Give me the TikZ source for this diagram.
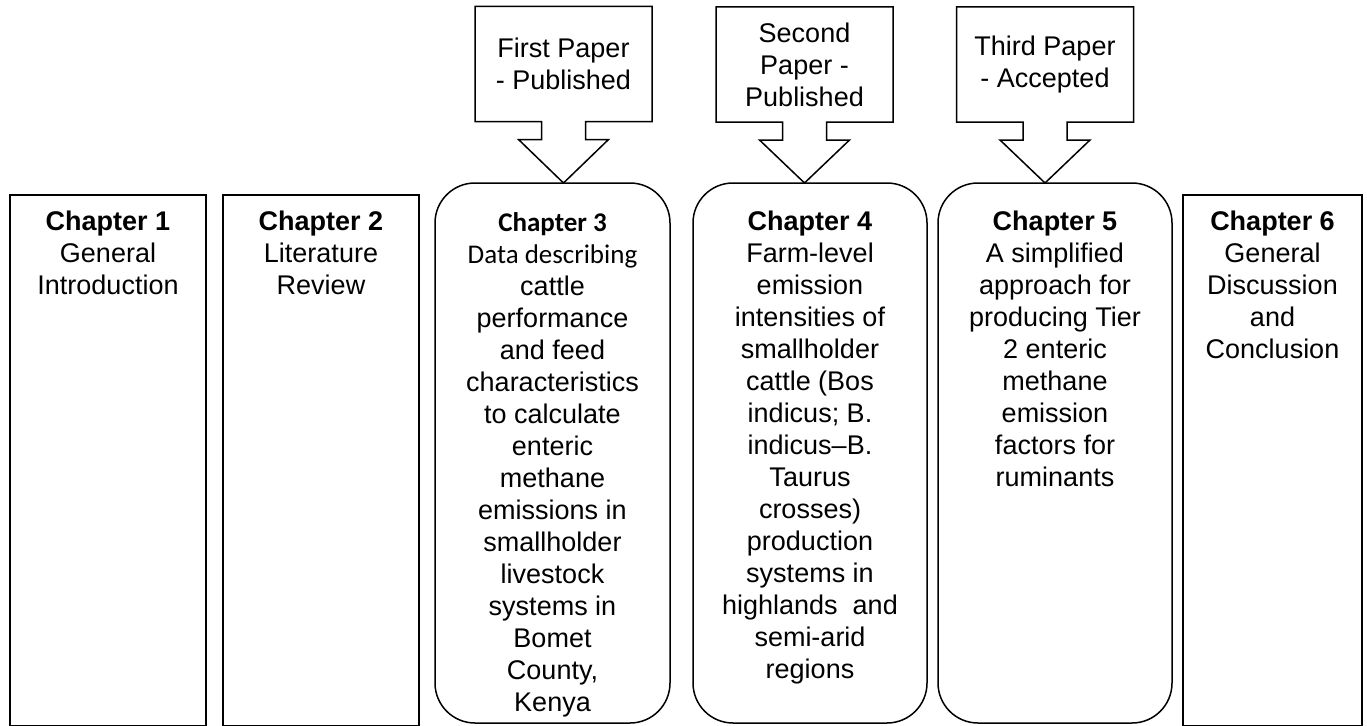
\documentclass[tikz,border=0pt]{standalone}
\usepackage{fontspec}
\setmainfont{Liberation Sans}
\newfontfamily\calibri{Carlito}
\begin{document}
\begin{tikzpicture}[x=1pt,y=-1pt,
  chbox/.style={draw, line width=1.5pt, rectangle, outer sep=0pt, anchor=north west},
  rbox/.style={chbox, rounded corners=40pt},
  txt/.style={align=center, inner sep=0pt, anchor=north, font=\fontsize{27}{32}\selectfont},
  ptext/.style={align=center, inner sep=0pt, outer sep=0pt, minimum width=177pt, minimum height=115pt, font=\fontsize{27}{32}\selectfont},
  outline/.style={draw, line width=1.5pt, line join=miter}
]
\useasboundingbox (0,0) rectangle (1367,725);

% chapter boxes
\node[chbox, minimum width=196pt, minimum height=530.5pt] (b1) at (10,195) {};
\node[chbox, minimum width=196pt, minimum height=530.5pt] (b2) at (223,195) {};
\node[rbox, minimum width=235pt, minimum height=540pt] (b3) at (435,183) {};
\node[rbox, minimum width=234pt, minimum height=540pt] (b4) at (693,183) {};
\node[rbox, minimum width=234pt, minimum height=540pt] (b5) at (938,183) {};
\node[chbox, minimum width=179pt, minimum height=530.5pt] (b6) at (1183,195) {};

% chapter texts
\node[txt] (t1) at ([yshift=-16pt]b1.north) {\textbf{Chapter 1}\\General\\Introduction};
\node[txt] (t2) at ([yshift=-16pt]b2.north) {\textbf{Chapter 2}\\Literature\\Review};
\node[txt] (t3) at ([yshift=-29pt]b3.north) {{\calibri\bfseries Chapter 3}\\{\calibri Data describing}\\cattle\\performance\\and feed\\characteristics\\to calculate\\enteric\\methane\\emissions in\\smallholder\\livestock\\systems in\\Bomet\\County,\\Kenya};
\node[txt] (t4) at ([yshift=-28pt]b4.north) {\textbf{Chapter 4}\\Farm-level\\emission\\intensities of\\smallholder\\cattle (Bos\\indicus; B.\\indicus–B.\\Taurus\\crosses)\\production\\systems in\\highlands\ \ and\\semi-arid\\regions};
\node[txt] (t5) at ([yshift=-28pt]b5.north) {\textbf{Chapter 5}\\A simplified\\approach for\\producing Tier\\2 enteric\\methane\\emission\\factors for\\ruminants};
\node[txt] (t6) at ([yshift=-16pt]b6.north) {\textbf{Chapter 6}\\General\\Discussion\\and\\Conclusion};

% paper callouts
\node[ptext] (p1) at (563.5,64) {First Paper\\- Published};
\node[ptext] (p2) at (804.5,64.5) {Second\\Paper -\\Published};
\node[ptext] (p3) at (1045,64.5) {Third Paper\\- Accepted};

\foreach \p/\b in {p1/b3, p2/b4, p3/b5}{
  \draw[outline] (\p.north west) -- (\p.north east) -- (\p.south east)
    -- ([xshift=22pt]\p.south) -- ++(0,18) -- ++(23,0)
    -- (\p.south |- \b.north)
    -- ([xshift=-45pt,yshift=-18pt]\p.south) -- ++(23,0)
    -- ([xshift=-22pt]\p.south) -- (\p.south west) -- cycle;
}
\end{tikzpicture}
\end{document}
